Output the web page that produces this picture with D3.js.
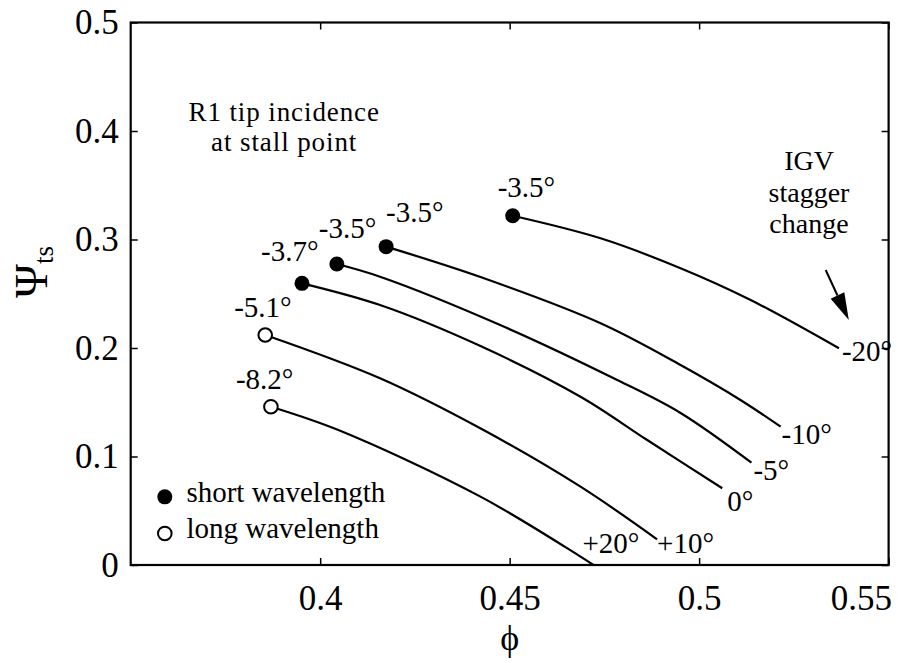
<!DOCTYPE html>
<html>
<head>
<meta charset="utf-8">
<script src="https://cdn.jsdelivr.net/npm/d3@7/dist/d3.min.js"></script>
<style>
body { margin: 0; background: #fff; }
svg text { font-family: "Liberation Serif", "Times New Roman", "DejaVu Serif", serif; fill: #000; }
</style>
</head>
<body>
<div id="chart"></div>
<script>
// IGV stagger change, one characteristic per setting
const staggerLabels = ['-20°', '-10°', '-5°', '0°', '+10°', '+20°'];
// R1 tip incidence at the stall point (first point of each curve)
const stallLabels = ['-3.5°', '-3.5°', '-3.5°', '-3.7°', '-5.1°', '-8.2°'];
const stallType = ['short', 'short', 'short', 'short', 'long', 'long'];

const phiM20 = [0.4508, 0.4740, 0.4951, 0.5136, 0.5369];
const psiM20 = [0.3219, 0.3011, 0.2735, 0.2442, 0.1997];
const phiM10 = [0.4174, 0.4423, 0.4740, 0.4951, 0.5109, 0.5215];
const psiM10 = [0.2934, 0.2654, 0.2228, 0.1843, 0.1521, 0.1275];
const phiM5 = [0.4044, 0.4158, 0.4475, 0.4784, 0.4951, 0.5138];
const psiM5 = [0.2774, 0.2657, 0.2212, 0.1705, 0.1401, 0.0943];
const phi0 = [0.3952, 0.4158, 0.4423, 0.4687, 0.4863, 0.5061];
const psi0 = [0.2596, 0.2396, 0.2018, 0.1551, 0.1152, 0.0707];
const phiP10 = [0.3855, 0.4158, 0.4431, 0.4687, 0.4889];
const psiP10 = [0.2120, 0.1721, 0.1244, 0.0722, 0.0237];
const phiP20 = [0.3870, 0.4048, 0.4423, 0.4687, 0.4721];
const psiP20 = [0.1459, 0.1244, 0.0630, 0.0077, 0.0];

const xTicks = [0.4, 0.45, 0.5, 0.55];
const yTicks = [0, 0.1, 0.2, 0.3, 0.4, 0.5];
const legendLabels = ['short wavelength', 'long wavelength'];

// arrow for "IGV stagger change"
const arrowFrom = [0.5334, 0.2719];
const arrowTo = [0.5395, 0.2258];

const curves = [
    [phiM20, psiM20], [phiM10, psiM10], [phiM5, psiM5],
    [phi0, psi0], [phiP10, psiP10], [phiP20, psiP20]
].map((c, i) => ({
    key: staggerLabels[i],
    stall: stallLabels[i],
    type: stallType[i],
    values: c[0].map((p, j) => ({ phi: p, psi: c[1][j] }))
}));

// label nudges in pixels (layout only)
const stallOffset = [[-15, -19], [0, -25], [-18, -26], [-41, -22], [-31, -18], [-35, -18]];
const endOffset = [[3, 13], [1, 17], [2, 17], [5, 23], [0, 14], [-11, -12]];

const width = 904, height = 663;
const margin = { t: 22.5, r: 15.4, b: 98, l: 130.7 };
const w = width - margin.l - margin.r;
const h = height - margin.t - margin.b;
const fs = '29px';

const svg = d3.select('#chart').append('svg')
    .attr('width', width)
    .attr('height', height);

const plot = svg.append('g')
    .attr('transform', `translate(${margin.l},${margin.t})`);

const scaleX = d3.scaleLinear().domain([0.35, 0.55]).range([0, w]);
const scaleY = d3.scaleLinear().domain([0, 0.5]).range([h, 0]);

// axes, ticks pointing inwards
const axisB = plot.append('g').attr('class', 'axis')
    .attr('transform', `translate(0,${h})`)
    .call(d3.axisBottom(scaleX).tickValues(xTicks).tickSize(-7).tickPadding(20).tickFormat(d => String(d)));
axisB.selectAll('text').filter(d => d === 0.55)
    .attr('text-anchor', 'end').attr('x', 3);

plot.append('g').attr('class', 'axis')
    .call(d3.axisTop(scaleX).tickValues(xTicks).tickSize(-7).tickFormat(''));

plot.append('g').attr('class', 'axis')
    .call(d3.axisLeft(scaleY).tickValues(yTicks).tickSize(-7).tickPadding(12).tickFormat(d => String(d)));

plot.append('g').attr('class', 'axis')
    .attr('transform', `translate(${w},0)`)
    .call(d3.axisRight(scaleY).tickValues(yTicks).tickSize(-7).tickFormat(''));

plot.selectAll('.axis .domain').remove();
plot.selectAll('.axis line').attr('stroke', '#000').attr('stroke-width', 1.5);
plot.selectAll('.axis text')
    .attr('fill', '#000')
    .style('font-size', '35px')
    .style('font-family', '"Liberation Serif", "Times New Roman", serif');

plot.append('rect')
    .attr('x', 0).attr('y', 0)
    .attr('width', w).attr('height', h)
    .attr('fill', 'none')
    .attr('stroke', '#000')
    .attr('stroke-width', 2.2);

// curves
const line = d3.line()
    .x(d => scaleX(d.phi))
    .y(d => scaleY(d.psi))
    .curve(d3.curveCatmullRom.alpha(0.5));

plot.selectAll('.curve')
    .data(curves)
    .enter().append('path')
    .attr('class', 'curve')
    .attr('d', d => line(d.values))
    .attr('fill', 'none')
    .attr('stroke', '#000')
    .attr('stroke-width', 2.2);

// stall points
plot.selectAll('.stall')
    .data(curves)
    .enter().append('circle')
    .attr('class', 'stall')
    .attr('cx', d => scaleX(d.values[0].phi))
    .attr('cy', d => scaleY(d.values[0].psi))
    .attr('r', d => d.type === 'short' ? 7.5 : 6.8)
    .attr('fill', d => d.type === 'short' ? '#000' : '#fff')
    .attr('stroke', '#000')
    .attr('stroke-width', d => d.type === 'short' ? 0 : 2);

plot.selectAll('.stall-label')
    .data(curves)
    .enter().append('text')
    .attr('class', 'stall-label')
    .attr('x', (d, i) => scaleX(d.values[0].phi) + stallOffset[i][0])
    .attr('y', (d, i) => scaleY(d.values[0].psi) + stallOffset[i][1])
    .style('font-size', fs)
    .text(d => d.stall);

plot.selectAll('.end-label')
    .data(curves)
    .enter().append('text')
    .attr('class', 'end-label')
    .attr('x', (d, i) => scaleX(d.values[d.values.length - 1].phi) + endOffset[i][0])
    .attr('y', (d, i) => scaleY(d.values[d.values.length - 1].psi) + endOffset[i][1])
    .style('font-size', fs)
    .text(d => d.key);

// annotations
const noteX = scaleX(0.3905);
['R1 tip incidence', 'at stall point'].forEach((t, i) => {
    plot.append('text')
        .attr('x', noteX)
        .attr('y', scaleY(0.4) - 10 + i * 30)
        .attr('text-anchor', 'middle')
        .style('font-size', '27px')
        .style('letter-spacing', '0.9px')
        .text(t);
});

['IGV', 'stagger', 'change'].forEach((t, i) => {
    plot.append('text')
        .attr('x', scaleX(0.5290))
        .attr('y', scaleY(0.364) + i * 31.5)
        .attr('text-anchor', 'middle')
        .style('font-size', '28px')
        .text(t);
});

// arrow
const ax0 = scaleX(arrowFrom[0]), ay0 = scaleY(arrowFrom[1]);
const ax1 = scaleX(arrowTo[0]), ay1 = scaleY(arrowTo[1]);
const ang = Math.atan2(ay1 - ay0, ax1 - ax0);
const headLen = 27, headW = 7.5;
const bx = ax1 - headLen * Math.cos(ang), by = ay1 - headLen * Math.sin(ang);
plot.append('line')
    .attr('x1', ax0).attr('y1', ay0)
    .attr('x2', bx).attr('y2', by)
    .attr('stroke', '#000').attr('stroke-width', 2);
plot.append('path')
    .attr('d', `M${ax1},${ay1}L${bx + headW * Math.sin(ang)},${by - headW * Math.cos(ang)}L${bx - headW * Math.sin(ang)},${by + headW * Math.cos(ang)}Z`)
    .attr('fill', '#000');

// legend
const legend = plot.append('g')
    .attr('transform', `translate(${scaleX(0.359)},${scaleY(0.0628)})`);
legendLabels.forEach((t, i) => {
    legend.append('circle')
        .attr('cx', 0).attr('cy', i * 36.6)
        .attr('r', i === 0 ? 7.5 : 6.8)
        .attr('fill', i === 0 ? '#000' : '#fff')
        .attr('stroke', '#000')
        .attr('stroke-width', i === 0 ? 0 : 2);
    legend.append('text')
        .attr('x', 21.6).attr('y', i * 36.6 + 5)
        .style('font-size', fs)
        .text(t);
});

// axis titles
const yTitle = svg.append('text')
    .attr('transform', `translate(47,${margin.t + scaleY(0.27)}) rotate(-90)`)
    .attr('text-anchor', 'middle');
yTitle.append('tspan').style('font-size', '46px').text('Ψ');
yTitle.append('tspan').style('font-size', '27px').attr('dy', 6).text('ts');

svg.append('text')
    .attr('x', margin.l + scaleX(0.45))
    .attr('y', 650)
    .attr('text-anchor', 'middle')
    .style('font-size', '36px')
    .text('ϕ');
</script>
</body>
</html>
